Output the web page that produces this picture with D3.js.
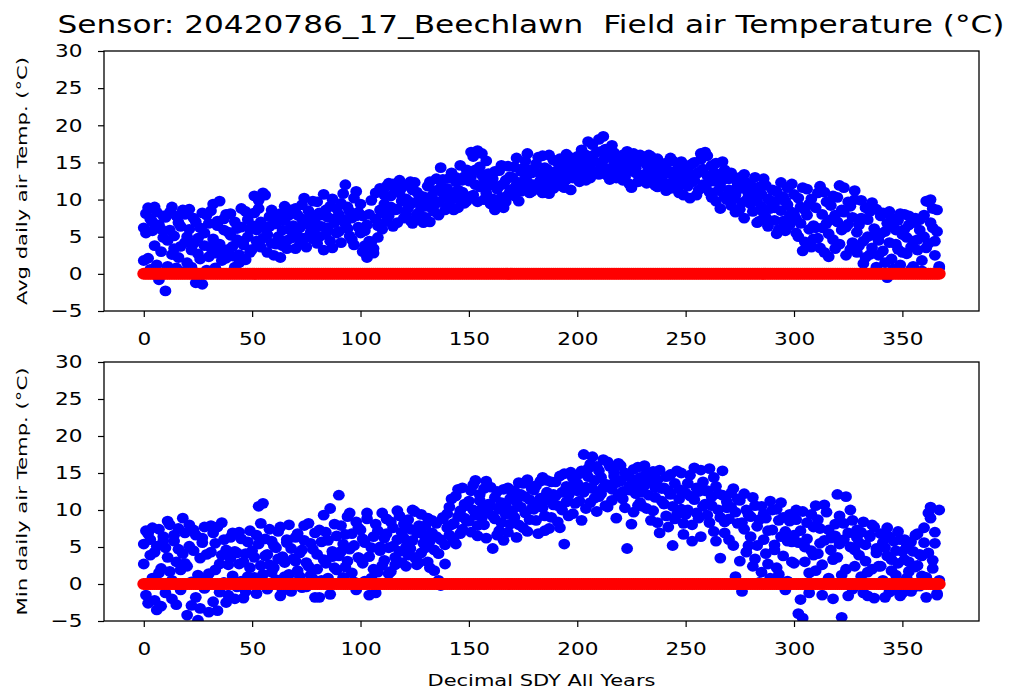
<!DOCTYPE html>
<html>
<head>
<meta charset="utf-8">
<script src="https://cdn.jsdelivr.net/npm/d3@7"></script>
<style>
  body { margin: 0; background: #fff; }
  text { font-family: "DejaVu Sans", sans-serif; fill: #000; white-space: pre; }
</style>
</head>
<body>
<div id="chart"></div>
<script>
//tick labels
var xTicks = [0, 50, 100, 150, 200, 250, 300, 350];
var yTicks = [-5, 0, 5, 10, 15, 20, 25, 30];

//threshold drawn in red under every day
var threshold = 0;

//avg daily air temp, first year (day 0..367)
var avgA = [
  6.2, 8.1, 2.1, 7.4, 5.8, 9.0, 1.2, 6.6, 3.0, 7.8,
  -2.3, 4.5, 8.3, 2.6, 5.1, 0.8, 6.9, 3.7, 8.6, 4.2,
  1.5, 6.0, 3.2, 7.5, -1.2, 4.8, 2.0, 8.2, 5.5, 0.5,
  6.8, 3.5, 9.4, 2.8, 7.1, 4.0, 1.8, 5.9, 8.0, 3.3,
  5.2, 2.4, 7.0, 4.6, 1.5, 6.3, 3.9, 8.4, 5.0, 2.9,
  6.5, 10.5, 4.4, 8.8, 3.6, 10.9, 6.1, 5.3, 7.7, 4.1,
  2.5, 6.8, 5.0, 8.1, 3.8, 7.2, 4.5, 6.0, 8.6, 5.4,
  3.4, 7.9, 6.2, 9.3, 4.8, 6.7, 8.5, 5.6, 9.8, 7.0,
  4.1, 8.2, 6.4, 10.7, 5.3, 7.6, 9.1, 3.5, 6.9, 8.8,
  5.7, 9.5, 7.3, 12.0, 6.1, 8.4, 4.6, 10.2, 7.8, 6.3,
  9.4, 3.0, 5.8, 2.2, 8.0, 4.3, 2.8, 10.9, 6.5, 11.5,
  8.2, 10.6, 7.1, 12.2, 9.0, 6.4, 11.3, 8.7, 12.6, 9.8,
  7.5, 10.1, 8.9, 12.4, 6.8, 9.6, 11.0, 8.3, 7.2, 10.4,
  9.1, 11.8, 7.0, 10.5, 8.4, 12.8, 9.7, 14.3, 10.9, 8.6,
  11.5, 9.3, 13.6, 10.2, 12.4, 8.9, 14.6, 11.0, 13.1, 9.8,
  12.5, 16.4, 10.6, 14.0, 16.6, 11.7, 13.3, 10.0, 15.2, 11.9,
  9.4, 12.8, 8.6, 11.4, 13.9, 10.3, 12.1, 9.7, 14.5, 11.2,
  13.0, 10.5, 15.6, 12.3, 11.1, 14.2, 12.8, 16.2, 10.9, 13.6,
  12.0, 14.8, 11.4, 13.5, 15.9, 12.7, 14.1, 10.8, 13.2, 15.3,
  13.8, 12.4, 15.5, 14.0, 11.6, 16.1, 13.3, 14.7, 12.9, 15.0,
  14.4, 13.1, 16.7, 15.2, 12.6, 17.8, 14.0, 15.9, 13.5, 16.4,
  18.1, 14.6, 15.3, 16.8, 13.2, 15.7, 14.1, 16.3, 12.9, 15.0,
  14.3, 16.0, 13.0, 15.4, 12.1, 14.8, 16.2, 13.6, 15.1, 12.5,
  15.6, 13.4, 14.7, 16.0, 12.8, 14.2, 15.3, 11.7, 13.9, 14.5,
  12.3, 14.9, 13.6, 11.5, 15.2, 12.8, 14.0, 10.9, 13.3, 12.1,
  14.6, 11.8, 13.1, 12.4, 15.0, 10.6, 13.7, 16.2, 12.0, 16.4,
  13.2, 11.0, 14.6, 12.5, 9.8, 13.4, 11.7, 15.1, 10.4, 12.9,
  11.3, 9.2, 13.0, 10.6, 12.2, 8.7, 11.5, 13.4, 9.9, 10.8,
  12.0, 8.4, 10.3, 6.9, 11.7, 9.0, 12.8, 7.6, 10.1, 8.8,
  9.6, 7.2, 11.1, 6.0, 8.5, 10.4, 5.8, 9.3, 7.7, 12.1,
  8.0, 5.5, 10.2, 6.8, 11.6, 4.3, 7.9, 9.4, 3.6, 6.5,
  8.9, 4.8, 11.8, 6.2, 2.9, 9.7, 5.4, 7.3, 10.5, 3.4,
  7.0, 11.9, 5.9, 8.3, 2.5, 6.7, 9.1, 4.2, 11.2, 5.6,
  3.8, 7.5, 1.4, 8.9, 5.0, 2.6, 9.6, 6.1, 0.9, 4.5,
  7.8, 3.1, 5.7, -0.5, 8.4, 2.0, 6.3, 4.0, 7.2, 1.2,
  5.3, 8.0, 2.7, 6.6, 0.6, 4.4, 7.5, 3.2, 5.9, 1.8,
  7.9, 9.8, 4.1, 10.0, 6.2, 2.5, 8.6, 1.0
];

//avg daily air temp, second year
var avgB = [
  1.8, 5.5, 8.9, 0.6, 7.0, 3.8, 8.3, -0.8, 6.0, 4.9,
  7.6, 1.0, 5.9, 9.0, 3.4, 7.8, 2.2, 6.4, 0.3, 8.0,
  5.0, 8.7, 0.9, 4.1, 7.0, 2.7, 6.2, -1.4, 3.8, 7.9,
  2.3, 8.5, 4.7, 0.8, 6.5, 9.8, 3.0, 7.4, 2.1, 5.6,
  8.1, 3.7, 0.9, 6.1, 2.6, 8.8, 4.4, 1.9, 7.3, 6.0,
  3.3, 8.2, 5.9, 9.9, 7.0, 4.8, 10.6, 2.9, 6.4, 8.6,
  6.7, 4.0, 7.6, 2.2, 5.9, 9.1, 3.4, 7.9, 4.8, 6.5,
  8.8, 5.1, 4.0, 7.4, 10.2, 3.6, 6.9, 8.0, 4.7, 6.1,
  9.7, 5.0, 7.9, 3.2, 8.6, 6.2, 4.4, 10.1, 7.4, 5.5,
  8.0, 4.2, 10.8, 6.7, 9.0, 5.1, 7.5, 3.9, 11.1, 8.3,
  5.5, 7.8, 3.8, 6.6, 4.4, 9.9, 3.4, 7.4, 4.9, 8.6,
  6.0, 9.4, 11.8, 7.8, 10.5, 12.1, 8.6, 6.9, 10.9, 11.6,
  11.9, 8.1, 9.8, 7.2, 11.3, 12.3, 8.0, 10.6, 9.2, 6.9,
  7.6, 10.0, 12.4, 8.8, 11.2, 9.5, 7.9, 11.6, 12.7, 10.3,
  9.0, 12.9, 10.8, 8.6, 13.0, 11.3, 10.0, 12.6, 9.5, 14.0,
  10.4, 13.1, 15.8, 12.0, 9.7, 14.4, 16.2, 12.8, 10.9, 13.5,
  12.3, 10.1, 13.8, 9.2, 11.8, 14.6, 8.9, 12.6, 10.6, 13.1,
  11.4, 14.4, 12.0, 9.8, 13.8, 11.6, 15.2, 12.4, 14.0, 11.1,
  13.9, 11.7, 15.7, 12.6, 10.9, 14.3, 12.0, 16.0, 13.0, 11.5,
  12.1, 15.0, 13.2, 11.8, 14.6, 12.7, 15.8, 11.3, 14.2, 13.4,
  15.8, 12.4, 14.1, 13.0, 16.0, 14.7, 12.9, 17.4, 15.1, 13.8,
  13.4, 16.5, 18.5, 14.2, 16.0, 12.7, 17.3, 14.8, 15.9, 13.6,
  15.8, 12.6, 14.9, 16.5, 13.8, 11.6, 15.0, 14.2, 12.4, 16.0,
  13.1, 15.3, 12.2, 14.0, 15.8, 13.3, 11.9, 15.5, 12.7, 13.0,
  14.8, 11.2, 13.9, 15.6, 12.4, 13.7, 11.4, 14.5, 15.1, 10.6,
  12.2, 13.9, 10.2, 14.8, 12.6, 13.5, 11.3, 15.4, 14.1, 11.6,
  15.9, 12.4, 10.3, 13.7, 14.9, 11.2, 8.8, 12.6, 14.0, 10.0,
  12.8, 13.6, 10.1, 8.3, 11.9, 13.0, 9.6, 7.5, 12.3, 10.4,
  9.4, 11.5, 13.0, 9.8, 7.1, 10.7, 8.2, 11.9, 6.4, 9.9,
  11.3, 8.9, 5.4, 10.0, 12.3, 7.1, 9.8, 11.6, 6.6, 8.3,
  10.7, 7.4, 5.0, 9.0, 3.1, 8.6, 11.4, 6.0, 10.1, 4.7,
  6.2, 10.9, 3.5, 8.0, 11.0, 6.8, 2.3, 9.2, 4.6, 7.9,
  10.3, 4.0, 8.6, 11.6, 6.3, 9.7, 3.3, 7.6, 10.0, 2.9,
  6.6, 9.9, 4.4, 2.2, 7.3, 8.4, 3.5, 5.2, 8.7, 2.5,
  5.4, 8.2, 1.5, 6.8, 4.2, 7.5, 0.7, 5.9, 3.3, 8.1,
  2.9, 6.0, 4.9, 7.8, 3.6, 1.0, 6.9, 4.6, 7.3, 0.4,
  5.0, 3.5, 9.7, 6.9, 8.8, 4.4, 5.7, 0.8
];

//min daily air temp, first year
var minA = [
  5.4, 7.2, -2.6, 6.0, 0.8, 4.3, -3.5, 7.4, 2.1, 5.8,
  -1.2, 3.6, 8.0, 0.5, 6.6, -2.8, 4.7, 1.9, 8.9, 2.8,
  -4.2, 5.1, 0.3, 7.3, -1.8, -4.9, 3.5, 6.2, -0.6, 4.0,
  1.4, 7.9, -2.4, 5.5, -3.6, 2.7, 8.3, 0.2, 4.6, -1.5,
  6.3, 1.1, -2.0, 4.2, 7.0, 0.4, 3.0, -1.0, 5.7, 2.2,
  4.5, 0.9, 6.6, 10.5, 2.5, 10.9, 3.8, -0.7, 7.4, 1.6,
  5.2, 0.6, 3.4, 7.7, -0.9, 2.9, 6.0, 1.3, 4.8, 0.0,
  3.1, 6.8, 1.0, 4.6, 7.9, -0.4, 2.4, 5.5, 0.7, -1.8,
  4.0, 7.3, 0.5, 9.3, 2.8, 5.9, -1.4, 3.7, 8.1, 1.9,
  12.0, 4.4, 0.9, 6.7, 3.1, 9.6, 1.5, 5.2, -0.8, 7.6,
  3.4, 6.1, 0.4, 8.8, -1.5, 4.9, 2.0, -1.2, 7.2, 5.0,
  9.6, 3.2, 6.8, 1.4, 8.4, 5.1, 2.6, 9.9, 4.4, 7.0,
  6.2, 2.4, 8.7, 4.8, 10.0, 3.6, 6.9, 2.9, 9.4, 5.5,
  7.9, 3.0, 5.8, 8.6, 1.8, 6.4, 4.1, -0.2, 8.8, 2.7,
  9.5, 6.6, 11.5, 8.2, 5.4, 12.8, 9.9, 7.4, 10.8, 8.5,
  11.2, 7.0, 13.4, 9.3, 6.5, 12.1, 10.2, 8.0, 13.9, 9.6,
  10.6, 4.8, 8.8, 12.5, 7.2, 11.0, 5.9, 9.4, 13.0, 8.1,
  12.2, 9.0, 6.3, 13.7, 10.4, 7.6, 11.8, 14.1, 8.7, 12.9,
  10.1, 13.3, 6.8, 11.6, 14.4, 9.2, 12.4, 7.5, 13.8, 10.7,
  11.9, 8.4, 14.6, 10.0, 5.4, 13.2, 12.0, 15.1, 9.5, 13.6,
  12.6, 14.9, 8.6, 17.5, 13.1, 15.6, 11.0, 17.2, 14.0, 9.8,
  15.3, 12.2, 16.8, 13.5, 10.4, 15.9, 12.8, 14.6, 8.9, 16.3,
  13.9, 11.5, 15.0, 4.8, 12.7, 14.2, 9.7, 13.3, 15.8, 11.0,
  12.4, 16.0, 10.2, 13.8, 8.6, 15.2, 11.7, 14.1, 6.9, 12.9,
  10.8, 14.5, 7.7, 12.1, 5.2, 13.6, 9.4, 11.5, 15.0, 8.2,
  12.3, 10.0, 14.7, 5.8, 11.4, 13.0, 8.9, 15.4, 10.5, 12.6,
  9.3, 15.6, 11.8, 7.1, 13.2, 10.0, 3.5, 12.0, 8.4, 11.1,
  6.0, 10.4, 12.9, 1.0, 8.2, 11.3, -1.0, 7.4, 10.0, 5.2,
  9.1, 11.7, 3.4, 7.8, 0.2, 10.5, 6.0, 8.9, 2.7, 11.2,
  7.3, 4.6, 10.1, 1.3, 6.4, 9.0, -0.8, 5.8, 8.5, 3.0,
  6.6, 10.0, -4.0, 7.2, -4.6, 5.0, 8.3, 1.5, 9.4, 3.9,
  10.6, 4.1, 7.5, -1.5, 5.9, 9.7, 0.8, 6.2, 3.3, 8.1,
  12.1, 5.4, -4.5, 8.2, 2.0, 6.9, 10.0, -0.7, 4.6, 7.3,
  3.9, 7.0, -1.2, 5.3, 1.6, 6.6, 8.0, -1.9, 4.2, 2.4,
  6.8, 0.5, 4.9, 7.6, -1.1, 3.3, 5.8, 1.2, 7.1, -1.6,
  4.4, 6.0, 0.8, 3.0, 5.7, -0.5, 6.6, 2.5, 4.0, 1.1,
  5.6, -1.8, 9.6, 10.4, 3.2, 7.0, -1.5, 0.5
];

//min daily air temp, second year
var minB = [
  2.7, -1.5, 6.8, 3.9, 7.6, -2.2, 5.1, 1.5, -3.0, 6.4,
  4.9, 8.5, 1.7, -2.0, 5.8, 3.0, 7.5, -0.8, 4.1, 6.9,
  2.4, 8.0, -2.9, 4.5, 6.6, 1.2, -3.3, 5.6, 7.7, 0.8,
  -3.8, 4.3, 6.9, 1.9, 7.7, -1.1, 3.9, 6.0, -2.5, 2.6,
  3.5, 6.9, 4.4, -0.4, 2.7, 6.1, -1.9, 4.1, 1.0, 7.2,
  0.5, 3.6, -1.3, 5.4, 8.2, 1.3, 6.1, 4.0, 2.6, 5.8,
  2.2, 4.9, 7.1, -1.6, 3.7, 1.0, 5.6, 8.0, -1.0, 3.4,
  6.3, 1.8, 4.2, -0.5, 5.9, 2.9, 8.2, 1.2, 4.7, 6.9,
  2.0, -1.8, 5.7, 3.3, 7.0, 0.8, 10.2, 4.4, 2.2, 6.5,
  3.8, 7.9, 5.4, 2.3, 9.1, 4.7, 6.8, 0.3, 8.4, 3.6,
  7.3, 2.8, 5.6, 9.6, 3.7, 0.8, 6.4, 8.1, 1.6, 4.5,
  2.5, 6.2, 8.8, 4.9, 1.7, 7.6, 3.6, 6.0, 9.2, 2.9,
  8.1, 5.0, 3.9, 7.4, 5.9, 9.8, 2.6, 7.9, 4.2, 6.7,
  4.9, 8.9, 2.2, 6.9, 4.6, 8.2, 0.5, 6.0, 9.0, 5.3,
  7.6, 10.4, 8.0, 5.9, 11.9, 9.1, 6.8, 13.0, 8.9, 10.6,
  8.5, 12.6, 10.0, 14.0, 7.9, 11.3, 9.0, 12.9, 6.2, 10.8,
  13.1, 9.2, 11.7, 6.6, 10.1, 8.3, 12.8, 10.7, 7.0, 11.5,
  9.9, 12.6, 11.1, 8.0, 12.1, 13.6, 9.6, 7.1, 11.4, 10.2,
  12.7, 8.6, 11.0, 13.9, 10.3, 7.2, 14.0, 11.3, 9.0, 12.1,
  13.8, 10.6, 7.6, 12.4, 14.9, 11.1, 9.2, 12.8, 14.3, 10.9,
  13.6, 11.2, 15.3, 12.4, 10.2, 14.5, 16.2, 12.9, 11.6, 15.9,
  11.8, 14.4, 13.0, 10.6, 16.5, 13.4, 11.3, 15.1, 13.7, 12.0,
  16.0, 12.5, 10.3, 14.7, 13.2, 8.1, 15.5, 12.2, 10.6, 14.4,
  10.5, 13.3, 15.0, 12.0, 14.6, 9.9, 13.0, 8.3, 15.4, 11.2,
  13.0, 9.2, 12.6, 14.8, 10.5, 8.8, 15.3, 12.8, 10.1, 6.7,
  9.4, 13.6, 11.9, 8.0, 15.7, 9.6, 12.5, 6.4, 13.8, 10.8,
  12.6, 8.3, 10.6, 14.4, 5.8, 12.2, 9.0, 15.3, 6.9, 10.3,
  8.8, 12.3, 5.2, 9.7, 11.5, 3.1, 8.3, 12.2, 4.3, 9.4,
  6.4, 2.4, 10.6, 5.2, 8.7, 1.6, 9.5, 4.1, 7.2, 0.8,
  10.0, 5.3, 2.2, 8.6, 11.0, 3.8, 7.1, 0.4, 9.4, 5.7,
  2.8, 8.7, 5.6, -2.1, 9.8, 3.0, 6.1, -1.2, 4.5, 7.7,
  1.8, 8.7, 5.5, 2.6, 10.7, 0.3, 7.3, 4.6, -2.0, 6.5,
  3.6, 9.2, 1.2, 6.0, 11.8, -1.6, 5.0, 8.6, 2.4, 6.3,
  5.6, 1.0, 8.4, 3.1, -1.6, 6.4, 2.0, 7.7, 4.8, 0.0,
  2.4, 5.6, -1.8, 3.8, 6.4, 1.8, -0.8, 4.5, 2.8, 6.0,
  -1.2, 3.3, 5.1, 1.7, -1.0, 4.4, 2.3, 6.8, -0.3, 3.8,
  7.6, 0.9, 4.2, 8.9, 2.1, 5.5, -1.3, 10.0
];

(function () {

  //figure size
  var W = 1024, H = 693;
  var left = 104, right = 979;

  var panels = [
    { top: 51, bottom: 311, series: [avgA, avgB], label: "Avg daily air Temp. (\u00b0C)" },
    { top: 362, bottom: 621, series: [minA, minB], label: "Min daily air Temp. (\u00b0C)" }
  ];

  var svg = d3.select("#chart")
    .append("svg")
    .attr("width", W)
    .attr("height", H);

  //x scale shared by both panels
  var x = d3.scaleLinear()
    .domain([-18.35, 385.35])
    .range([left, right]);

  //title (two spaces kept on purpose)
  svg.append("text")
    .attr("x", 531)
    .attr("y", 33)
    .attr("text-anchor", "middle")
    .attr("font-size", 24)
    .attr("textLength", 947)
    .attr("lengthAdjust", "spacingAndGlyphs")
    .text("Sensor: 20420786_17_Beechlawn  Field air Temperature (\u00b0C)");

  panels.forEach(function (p, i) {
    var y = d3.scaleLinear()
      .domain([-5, 30])
      .range([p.bottom, p.top]);

    //clip to the axes box
    svg.append("clipPath")
      .attr("id", "clip" + i)
      .append("rect")
      .attr("x", left)
      .attr("y", p.top)
      .attr("width", right - left)
      .attr("height", p.bottom - p.top);

    var g = svg.append("g").attr("clip-path", "url(#clip" + i + ")");

    //blue scatter, one layer per year
    p.series.forEach(function (vals) {
      g.selectAll(null)
        .data(vals)
        .enter().append("ellipse")
        .attr("cx", function (d, k) { return x(k) })
        .attr("cy", function (d) { return y(d) })
        .attr("rx", 5.9)
        .attr("ry", 5.4)
        .attr("fill", "#0000ff");
    });

    //red zero line of dots
    g.selectAll(null)
      .data(p.series[0])
      .enter().append("ellipse")
      .attr("cx", function (d, k) { return x(k) })
      .attr("cy", y(threshold))
      .attr("rx", 6.5)
      .attr("ry", 6)
      .attr("fill", "#ff0000");

    //axes
    var xAxis = d3.axisBottom(x)
      .tickValues(xTicks)
      .tickSizeOuter(0)
      .tickSize(6)
      .tickPadding(15);
    var xg = svg.append("g")
      .attr("transform", "translate(0," + p.bottom + ")")
      .call(xAxis);
    xg.select(".domain").remove();

    var yAxis = d3.axisLeft(y)
      .tickValues(yTicks)
      .tickSizeOuter(0)
      .tickSize(6)
      .tickFormat(function (d) { return d < 0 ? "\u2212" + Math.abs(d) : d });
    var yg = svg.append("g")
      .attr("transform", "translate(" + left + ",0)")
      .call(yAxis);
    yg.select(".domain").remove();

    svg.selectAll(".tick line")
      .attr("stroke", "#000")
      .attr("stroke-width", 1.2);

    xg.selectAll(".tick text")
      .attr("font-size", 18)
      .attr("font-family", "DejaVu Sans")
      .attr("fill", "#222")
      .attr("transform", "scale(1.2,1)");

    yg.selectAll(".tick text")
      .attr("font-size", 18)
      .attr("font-family", "DejaVu Sans")
      .attr("fill", "#222")
      .attr("x", -18)
      .attr("transform", "scale(1.2,1)");

    //frame
    svg.append("rect")
      .attr("x", left)
      .attr("y", p.top)
      .attr("width", right - left)
      .attr("height", p.bottom - p.top)
      .attr("fill", "none")
      .attr("stroke", "#000")
      .attr("stroke-width", 1.3);

    //y label
    svg.append("text")
      .attr("transform", "translate(27," + (p.top + p.bottom) / 2 + ") rotate(-90)")
      .attr("text-anchor", "middle")
      .attr("font-size", 14)
      .attr("textLength", 248)
      .attr("lengthAdjust", "spacingAndGlyphs")
      .attr("fill", "#222")
      .text(p.label);
  });

  //x label
  svg.append("text")
    .attr("x", (left + right) / 2)
    .attr("y", 686)
    .attr("text-anchor", "middle")
    .attr("font-size", 15)
    .attr("textLength", 228)
    .attr("lengthAdjust", "spacingAndGlyphs")
    .attr("fill", "#222")
    .text("Decimal SDY All Years");

})()
</script>
</body>
</html>
